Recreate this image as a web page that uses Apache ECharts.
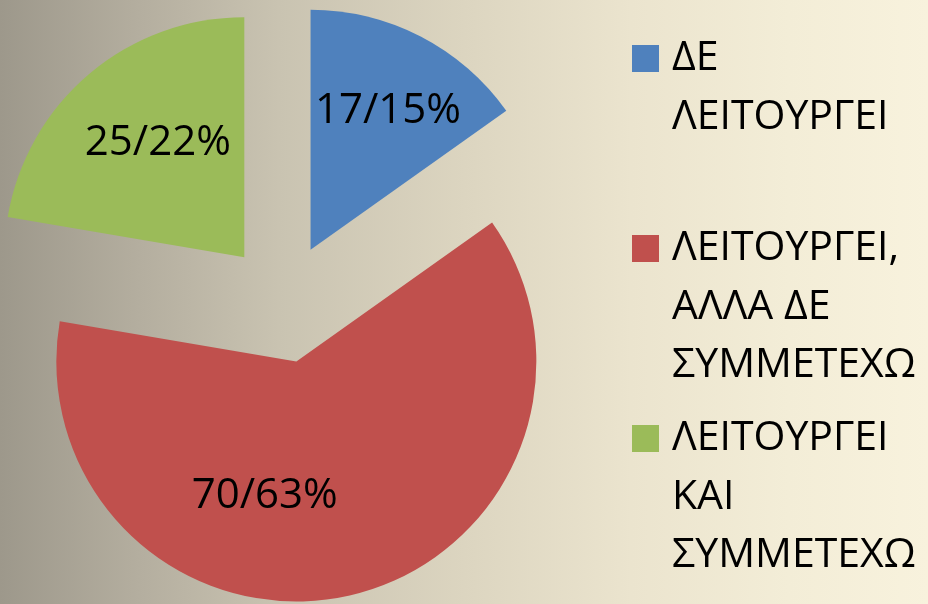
<!DOCTYPE html>
<html>
<head>
<meta charset="utf-8">
<script src="https://cdn.jsdelivr.net/npm/echarts@6/dist/echarts.min.js"></script>
<style>
    html, body {margin: 0; padding: 0;}
    #pie {
        width: 928px;
        height: 604px;
        background: linear-gradient(to right, #9d988b 0%, #b4ae9f 15%, #c9c3b1 30%, #dcd5c0 50%, #ebe4ce 68%, #f3edd7 85%, #f8f2dd 100%);
    }
</style>
</head>
<body>
<div id="pie"></div>
<script>
var names = ['ΔΕ\nΛΕΙΤΟΥΡΓΕΙ', 'ΛΕΙΤΟΥΡΓΕΙ,\nΑΛΛΑ ΔΕ\nΣΥΜΜΕΤΕΧΩ', 'ΛΕΙΤΟΥΡΓΕΙ\nΚΑΙ\nΣΥΜΜΕΤΕΧΩ'];
var values = [17, 70, 25];
var colors = ['#4f81bd', '#c0504d', '#9bbb59'];

// label nudges (excel puts the labels a bit off the slice middle)
var labelShift = [[21, -29], [-59, 15], [-7, -20]];
var iconCenters = [58.5, 248.5, 438.5];
var lineH = 58.5;
var font = '"Open Sans", "Noto Sans", sans-serif';

var pieData = [];
for (var i = 0; i < values.length; i++) {
    pieData.push({
        name: names[i],
        value: values[i],
        selected: true,
        itemStyle: {color: colors[i]}
    });
}

// legend text is centred on the icon, so pad with empty lines on top
// to get the first line level with the square
function padLines(name) {
    var n = name.split('\n').length;
    var pre = '';
    for (var k = 1; k < n; k++) pre += '\n';
    return pre + name;
}

var legends = [];
for (var j = 0; j < names.length; j++) {
    var n = names[j].split('\n').length;
    legends.push({
        data: [names[j]],
        left: 632,
        top: iconCenters[j] - (2 * n - 1) * lineH / 2,
        padding: 0,
        orient: 'vertical',
        icon: 'rect',
        itemWidth: 27,
        itemHeight: 27,
        selectedMode: false,
        formatter: padLines,
        textStyle: {
            fontFamily: font,
            fontSize: 41,
            color: '#000',
            lineHeight: lineH,
            padding: [0, 0, 0, 8]
        }
    });
}

var option = {
    animation: false,
    color: colors,
    legend: legends,
    series: [{
        type: 'pie',
        center: [283, 303],
        radius: 240,
        startAngle: 90,
        clockwise: true,
        selectedMode: 'multiple',
        selectedOffset: 60,
        percentPrecision: 0,
        silent: true,
        data: pieData,
        label: {
            show: true,
            position: 'inside',
            formatter: '{c}/{d}%',
            fontFamily: font,
            fontSize: 42,
            color: '#000'
        },
        labelLine: {show: false},
        labelLayout: function (params) {
            var s = labelShift[params.dataIndex];
            return {dx: s[0], dy: s[1]};
        },
        select: {
            itemStyle: {borderWidth: 0}
        }
    }]
};

var chart = echarts.init(document.getElementById('pie'));
chart.setOption(option);
</script>
</body>
</html>
